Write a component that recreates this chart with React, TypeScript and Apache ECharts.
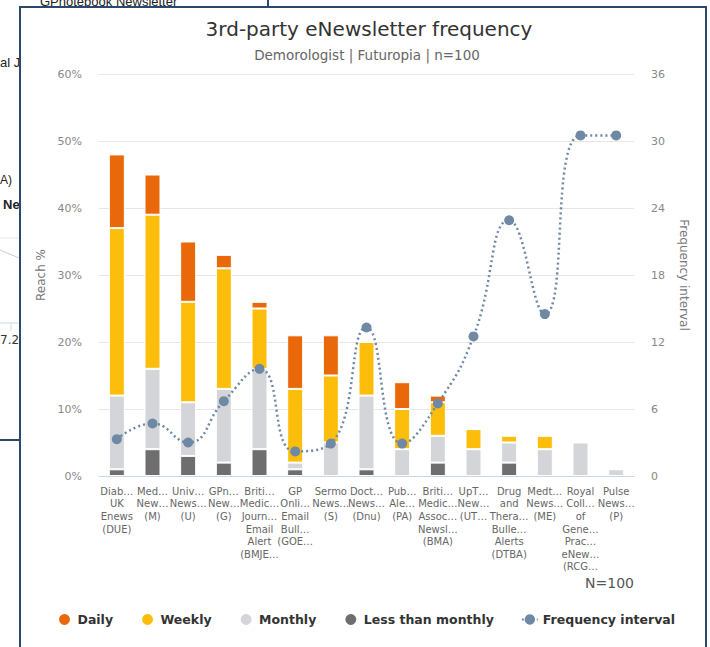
import React, { useEffect, useRef } from "react";
import * as echarts from "echarts";

const categories = [
  "Diab…\nUK\nEnews\n(DUE)",
  "Med…\nNew…\n(M)",
  "Univ…\nNews…\n(U)",
  "GPn…\nNew…\n(G)",
  "Briti…\nMedic…\nJourn…\nEmail\nAlert\n(BMJE…",
  "GP\nOnli…\nEmail\nBull…\n(GOE…",
  "Sermo\nNews…\n(S)",
  "Doct…\nNews…\n(Dnu)",
  "Pub…\nAle…\n(PA)",
  "Briti…\nMedic…\nAssoc…\nNewsl…\n(BMA)",
  "UpT…\nNew…\n(UT…",
  "Drug\nand\nThera…\nBulle…\nAlerts\n(DTBA)",
  "Medt…\nNews…\n(ME)",
  "Royal\nColl…\nof\nGene…\nPrac…\neNew…\n(RCG…",
  "Pulse\nNews…\n(P)",
];

const daily = [11, 6, 9, 2, 1, 8, 6, 0, 4, 1, 0, 0, 0, 0, 0];
const weekly = [25, 23, 15, 18, 9, 11, 10, 8, 6, 5, 3, 1, 2, 0, 0];
const monthly = [11, 12, 8, 11, 12, 1, 5, 11, 4, 4, 4, 3, 4, 5, 1];
const lessThanMonthly = [1, 4, 3, 2, 4, 1, 0, 1, 0, 2, 0, 2, 0, 0, 0];
const frequencyInterval = [3.3, 4.7, 3.0, 6.7, 9.6, 2.2, 2.9, 13.3, 2.9, 6.5, 12.5, 22.9, 14.5, 30.5, 30.5];

const reachTicks = { min: 0, max: 60, interval: 10 };
const freqTicks = { min: 0, max: 36, interval: 6 };

const FONT = "DejaVu Sans";

export default function App() {
  const ref = useRef<HTMLDivElement>(null);
  useEffect(() => {
    if (!ref.current) return;
    const chart = echarts.init(ref.current, undefined, { renderer: "svg" });
    const nz = (a: number[]) => a.map((v) => (v === 0 ? null : v));
    const barBase = {
      type: "bar",
      stack: "reach",
      barWidth: 16,
      yAxisIndex: 0,
      itemStyle: { borderColor: "#ffffff", borderWidth: 1 },
    };
    const option: any = {
      animation: false,
      backgroundColor: "#ffffff",
      textStyle: { fontFamily: FONT },
      title: [
        {
          text: "3rd-party eNewsletter frequency",
          left: 364,
          top: 14,
          textAlign: "center",
          textStyle: { fontSize: 20, fontWeight: "normal", color: "#333333", fontFamily: FONT },
        },
        {
          text: "Demorologist | Futuropia | n=100",
          left: 362,
          top: 43,
          textAlign: "center",
          textStyle: { fontSize: 13.5, fontWeight: "normal", color: "#666666", fontFamily: FONT },
        },
      ],
      grid: { left: 99, right: 76, top: 74, bottom: 171, containLabel: false },
      legend: {
        left: 52,
        top: 607,
        itemGap: 27,
        itemWidth: 16,
        itemHeight: 13,
        textStyle: { fontSize: 12.5, fontWeight: "bold", color: "#333333", fontFamily: FONT },
        data: [
          { name: "Daily", icon: "circle" },
          { name: "Weekly", icon: "circle" },
          { name: "Monthly", icon: "circle" },
          { name: "Less than monthly", icon: "circle" },
          { name: "Frequency interval" },
        ],
      },
      xAxis: {
        type: "category",
        data: categories,
        axisLine: { lineStyle: { color: "#ccd6eb" } },
        axisTick: { show: false },
        axisLabel: {
          interval: 0,
          fontSize: 10,
          lineHeight: 12.6,
          color: "#666666",
          margin: 9,
          fontFamily: FONT,
        },
      },
      yAxis: [
        {
          type: "value",
          ...reachTicks,
          name: "Reach %",
          nameLocation: "middle",
          nameGap: 48,
          nameTextStyle: { fontSize: 12, color: "#777777", fontFamily: FONT },
          axisLabel: { formatter: "{value}%", fontSize: 11, color: "#888888", margin: 17, fontFamily: FONT },
          splitLine: { lineStyle: { color: "#e6e6e6" } },
          axisLine: { show: false },
          axisTick: { show: false },
        },
        {
          type: "value",
          ...freqTicks,
          name: "Frequency interval",
          nameLocation: "middle",
          nameGap: 44,
          nameRotate: -90,
          nameTextStyle: { fontSize: 12, color: "#777777", fontFamily: FONT },
          axisLabel: { fontSize: 11, color: "#888888", margin: 17, fontFamily: FONT },
          splitLine: { show: false },
          axisLine: { show: false },
          axisTick: { show: false },
        },
      ],
      series: [
        { ...barBase, name: "Less than monthly", data: nz(lessThanMonthly), itemStyle: { ...barBase.itemStyle, color: "#6e6e6e" } },
        { ...barBase, name: "Monthly", data: nz(monthly), itemStyle: { ...barBase.itemStyle, color: "#d3d5d8" } },
        { ...barBase, name: "Weekly", data: nz(weekly), itemStyle: { ...barBase.itemStyle, color: "#fcbe0b" } },
        { ...barBase, name: "Daily", data: nz(daily), itemStyle: { ...barBase.itemStyle, color: "#e8680a" } },
        {
          type: "line",
          name: "Frequency interval",
          yAxisIndex: 1,
          data: frequencyInterval,
          smooth: 0.5,
          symbol: "circle",
          symbolSize: 10,
          itemStyle: { color: "#6f88a3" },
          lineStyle: { color: "#6f88a3", width: 2.5, type: [2, 3] },
          z: 5,
        },
      ],
      graphic: [
        // background fragments behind the panel
        { type: "text", left: 40, top: -5, style: { text: "GPnotebook Newsletter", fontSize: 13, fill: "#222", fontFamily: "Liberation Sans" }, z: 0 },
        { type: "line", shape: { x1: 268, y1: 0, x2: 268, y2: 7 }, style: { stroke: "#2b4a6b", lineWidth: 2 } },
        { type: "text", left: 0, top: 56, style: { text: "al J", fontSize: 13, fill: "#222", fontFamily: "Liberation Sans" } },
        { type: "text", left: 0, top: 174, style: { text: "A)", fontSize: 12, fill: "#222", fontFamily: "Liberation Sans" } },
        { type: "text", left: 3, top: 198, style: { text: "Ne", fontSize: 13, fontWeight: "bold", fill: "#222", fontFamily: "Liberation Sans" } },
        { type: "line", shape: { x1: 0, y1: 238, x2: 19, y2: 238 }, style: { stroke: "#e6e6e6", lineWidth: 1 } },
        { type: "line", shape: { x1: 0, y1: 250, x2: 19, y2: 258 }, style: { stroke: "#cccccc", lineWidth: 1 } },
        { type: "line", shape: { x1: 0, y1: 323, x2: 19, y2: 323 }, style: { stroke: "#ccd6eb", lineWidth: 1 } },
        { type: "line", shape: { x1: 11, y1: 323, x2: 11, y2: 331 }, style: { stroke: "#ccd6eb", lineWidth: 1 } },
        { type: "text", left: 0, top: 334, style: { text: "7.2", fontSize: 12, fill: "#333", fontFamily: "DejaVu Sans" } },
        { type: "line", shape: { x1: 0, y1: 440, x2: 19, y2: 440 }, style: { stroke: "#2b4a6b", lineWidth: 2 } },
        // panel border
        {
          type: "rect",
          shape: { x: 20, y: 7, width: 686, height: 700 },
          style: { fill: "none", stroke: "#2b4a6b", lineWidth: 2 },
        },
        {
          type: "text",
          right: 76,
          top: 576,
          style: { text: "N=100", fontSize: 14, fill: "#555555", fontFamily: FONT, textAlign: "right" },
        },
      ],
    };
    chart.setOption(option);
    return () => chart.dispose();
  }, []);
  return (
    <div
      ref={ref}
      style={{ position: "absolute", left: 0, top: 0, width: 710, height: 647 }}
    />
  );
}
